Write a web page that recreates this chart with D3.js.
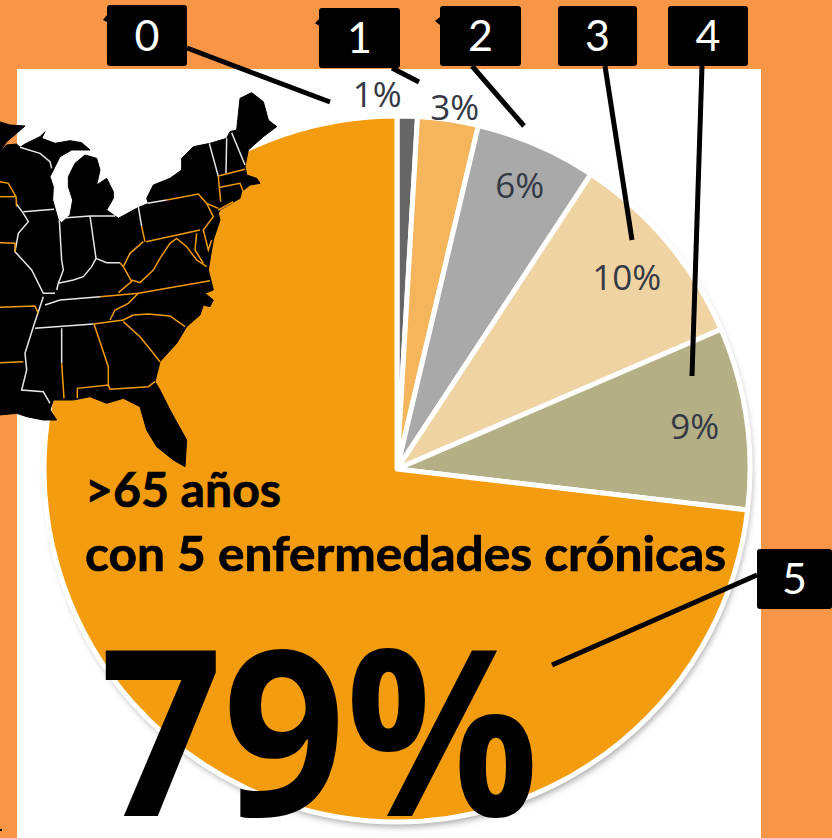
<!DOCTYPE html>
<html>
<head>
<meta charset="utf-8">
<script src="https://cdn.jsdelivr.net/npm/d3@7"></script>
<style>
  html, body { margin: 0; padding: 0; background: #F79646; }
  svg { display: block; }
</style>
</head>
<body>
<div id="chart"></div>
<script>
// values as printed on the slices (they add up to 108, the pie is still proportional to them)
const labels = ['1%', '3%', '6%', '10%', '9%', '79%'];
const values = [1, 3, 6, 10, 9, 79];
const colors = ['#666666', '#F4B55C', '#A9A9A9', '#EFD3A2', '#B5AF85', '#F39C0F'];
const boxNames = ['0', '1', '2', '3', '4', '5'];

// callouts: [x, y, w, h] of the box, then the leader line
const boxes = [
  [107, 5, 80, 61], [319, 8, 81, 60], [440, 6, 81, 60],
  [558, 6, 79, 60], [668, 6, 80, 60], [757, 549, 75, 60]
];
const leaders = [
  [[187, 48], [330, 102]], [[392, 68], [419, 82]], [[472, 66], [524, 126]],
  [[605, 66], [632, 240]], [[702, 66], [692, 376]], [[757, 575], [552, 665]]
];
// little black tips peeking out behind the boxes
const tips = [
  [[107, 15], [103, 20], [107, 22]],
  [[319, 19], [315, 23], [319, 26]],
  [[440, 17], [435, 21], [440, 25]]
];

// map, in zoomed-crop units (3x, y starts at 70)
const mapOutline = [
  [-3,155],[30,165],[75,168],[50,190],[20,215],[0,245],[20,225],[50,222],[60,232],[75,222],[120,200],[135,185],[125,205],
  [165,220],[210,212],[245,218],[270,240],[215,240],[180,260],[165,290],[150,320],[160,350],[158,390],[175,450],[185,458],
  [210,435],[218,390],[205,350],[205,320],[225,280],[255,255],[290,265],[300,300],[290,345],[320,325],[340,365],[340,385],
  [320,420],[355,445],[410,415],[445,400],[440,385],[460,345],[510,325],[545,300],[545,265],[580,230],[630,220],[680,205],
  [690,185],[710,180],[720,85],[755,68],[790,95],[805,150],[830,170],[790,200],[745,240],[735,290],[740,315],[770,325],
  [780,340],[750,345],[725,365],[720,385],[660,420],[655,430],[660,450],[640,510],[625,600],[640,660],[615,670],[640,690],
  [630,710],[610,705],[600,735],[560,770],[530,820],[480,875],[465,935],[480,960],[510,1020],[560,1110],[555,1190],[520,1170],
  [470,1130],[440,1080],[420,1010],[370,985],[320,1000],[270,980],[220,990],[160,990],[150,1020],[170,1050],[130,1050],
  [80,1040],[50,1030],[-3,1035]
];
const whiteBorders = [
  [[60,232],[120,250],[150,275],[155,295]],
  [[70,425],[162,418]],
  [[178,450],[185,570],[190,600],[175,640],[170,660]],
  [[175,640],[220,630],[250,620],[275,590],[288,565],[320,578],[360,578]],
  [[270,438],[288,565]],
  [[180,445],[270,438],[345,438]],
  [[415,410],[425,470]],
  [[48,400],[70,430],[85,455],[55,490],[45,545],[95,600],[130,670],[165,670]],
  [[130,680],[100,770],[75,850],[80,900],[65,960],[130,965],[150,1000]],
  [[135,705],[180,690],[300,680]],
  [[105,775],[280,762]],
  [[185,775],[185,880]],
  [[442,400],[500,390]],
  [[628,220],[655,320]],
  [[680,205],[678,310]],
  [[695,188],[735,285]]
];
const orangeBorders = [
  [[425,470],[435,515]],
  [[300,680],[415,670],[630,632]],
  [[280,762],[370,750],[400,735]],
  [[185,880],[192,985]],
  [[282,762],[325,890],[325,950]],
  [[232,985],[232,955],[325,945],[330,958],[445,950],[465,935]],
  [[370,755],[420,800],[460,850],[480,875]],
  [[400,735],[445,732],[510,738],[555,770]],
  [[330,750],[345,720],[385,700],[415,670]],
  [[355,668],[395,635],[370,590],[360,578]],
  [[370,590],[390,550],[430,515]],
  [[395,630],[420,638],[460,600],[480,565],[510,520],[530,505],[560,530],[590,570],[620,590]],
  [[438,515],[600,480]],
  [[500,390],[595,372],[620,400],[655,415]],
  [[655,320],[662,395]],
  [[655,318],[735,298]],
  [[660,352],[720,340],[730,365]],
  [[620,400],[640,440],[610,480],[625,540],[635,510]],
  [[590,490],[585,540],[610,580]],
  [[655,420],[700,395]],
  [[0,335],[25,340],[48,380],[50,410]],
  [[0,380],[48,380]],
  [[0,518],[45,520],[45,545]],
  [[0,712],[105,708],[115,730]],
  [[0,878],[70,875]]
];

const width = 832, height = 838;
const cx = 397, cy = 469, radius = 353;

const svg = d3.select('#chart').append('svg')
  .attr('width', width)
  .attr('height', height);

const defs = svg.append('defs');
const shadow = defs.append('filter').attr('id', 'soft')
  .attr('x', '-10%').attr('y', '-10%').attr('width', '120%').attr('height', '120%');
shadow.append('feGaussianBlur').attr('stdDeviation', 3);

// fondo
svg.append('rect').attr('width', width).attr('height', height).attr('fill', '#F79646');
svg.append('rect').attr('x', 17).attr('y', 69).attr('width', 744).attr('height', height - 69).attr('fill', '#fff');
svg.append('rect').attr('x', 0).attr('y', 829).attr('width', 2).attr('height', 2).attr('fill', '#000');

// pie
const pie = d3.pie().sort(null).value(d => d);
const arcs = pie(values);
const arc = d3.arc().innerRadius(0).outerRadius(radius);

const chart = svg.append('g').attr('transform', `translate(${cx},${cy})`);

chart.append('circle').attr('r', radius).attr('cx', 2).attr('cy', 5)
  .attr('fill', '#8f8f8f').attr('fill-opacity', 0.75).attr('filter', 'url(#soft)');
chart.append('circle').attr('r', radius).attr('fill', '#fff');

chart.selectAll('path.slice')
  .data(arcs)
  .join('path')
  .attr('class', 'slice')
  .attr('d', arc)
  .attr('fill', (d, i) => colors[i])
  .attr('stroke', '#fff')
  .attr('stroke-width', 5)
  .attr('stroke-linejoin', 'round');

// slice labels: the 1% and 3% sit outside, the others inside
const labelRadius = [376, 367, 310, 300, 301];
const labelShift = [-4.7, 0.7, 0, 0, 0];
chart.selectAll('text.pct')
  .data(arcs.slice(0, 5))
  .join('text')
  .attr('class', 'pct')
  .attr('x', (d, i) => labelRadius[i] * Math.sin((d.startAngle + d.endAngle) / 2 + labelShift[i] * Math.PI / 180))
  .attr('y', (d, i) => 1 - labelRadius[i] * Math.cos((d.startAngle + d.endAngle) / 2 + labelShift[i] * Math.PI / 180))
  .attr('dy', '0.36em')
  .attr('text-anchor', 'middle')
  .attr('font-family', '"Open Sans", sans-serif')
  .attr('font-size', 35)
  .attr('fill', '#343945')
  .text((d, i) => labels[i]);

// mapa encima del pie
const mapX = d => d[0] / 3;
const mapY = d => 70 + d[1] / 3;
const mapLine = d3.line().x(mapX).y(mapY);

const map = svg.append('g');
map.append('path')
  .attr('d', mapLine(mapOutline) + 'Z')
  .attr('fill', '#000')
  .attr('stroke', '#000')
  .attr('stroke-width', 1)
  .attr('stroke-linejoin', 'round');
map.selectAll('path.white')
  .data(whiteBorders)
  .join('path')
  .attr('class', 'white')
  .attr('d', mapLine)
  .attr('fill', 'none')
  .attr('stroke', '#E8E8E8')
  .attr('stroke-width', 1.5);
map.selectAll('path.orange')
  .data(orangeBorders)
  .join('path')
  .attr('class', 'orange')
  .attr('d', mapLine)
  .attr('fill', 'none')
  .attr('stroke', '#F39C0F')
  .attr('stroke-width', 1.5);

// textos grandes
svg.append('text')
  .attr('x', 85).attr('y', 507)
  .attr('font-family', 'Lato, sans-serif').attr('font-weight', 700).attr('font-size', 47)
  .attr('stroke', '#000').attr('stroke-width', 0.7)
  .attr('textLength', 196).attr('lengthAdjust', 'spacingAndGlyphs')
  .text('>65 años');
svg.append('text')
  .attr('x', 85).attr('y', 571)
  .attr('font-family', 'Lato, sans-serif').attr('font-weight', 700).attr('font-size', 47)
  .attr('stroke', '#000').attr('stroke-width', 0.7)
  .attr('textLength', 641).attr('lengthAdjust', 'spacingAndGlyphs')
  .text('con 5 enfermedades crónicas');
svg.append('text')
  .attr('x', 100).attr('y', 816)
  .attr('font-family', '"Open Sans", sans-serif').attr('font-weight', 700).attr('font-size', 231)
  .attr('textLength', 439).attr('lengthAdjust', 'spacingAndGlyphs')
  .text(labels[5]);

// leader lines + recuadros
svg.selectAll('line.leader')
  .data(leaders)
  .join('line')
  .attr('class', 'leader')
  .attr('x1', d => d[0][0]).attr('y1', d => d[0][1])
  .attr('x2', d => d[1][0]).attr('y2', d => d[1][1])
  .attr('stroke', '#000')
  .attr('stroke-width', 5);

svg.selectAll('path.tip')
  .data(tips)
  .join('path')
  .attr('class', 'tip')
  .attr('d', d => d3.line()(d) + 'Z')
  .attr('fill', '#000');

const box = svg.selectAll('g.box')
  .data(boxes)
  .join('g')
  .attr('class', 'box');
box.append('rect')
  .attr('x', d => d[0]).attr('y', d => d[1])
  .attr('width', d => d[2]).attr('height', d => d[3])
  .attr('rx', 3)
  .attr('fill', '#000');
box.append('text')
  .attr('x', d => d[0] + d[2] / 2)
  .attr('y', d => d[1] + d[3] / 2)
  .attr('dy', '0.36em')
  .attr('text-anchor', 'middle')
  .attr('font-family', 'Lato, sans-serif')
  .attr('font-size', 43)
  .attr('fill', '#fff')
  .text((d, i) => boxNames[i]);
</script>
</body>
</html>
